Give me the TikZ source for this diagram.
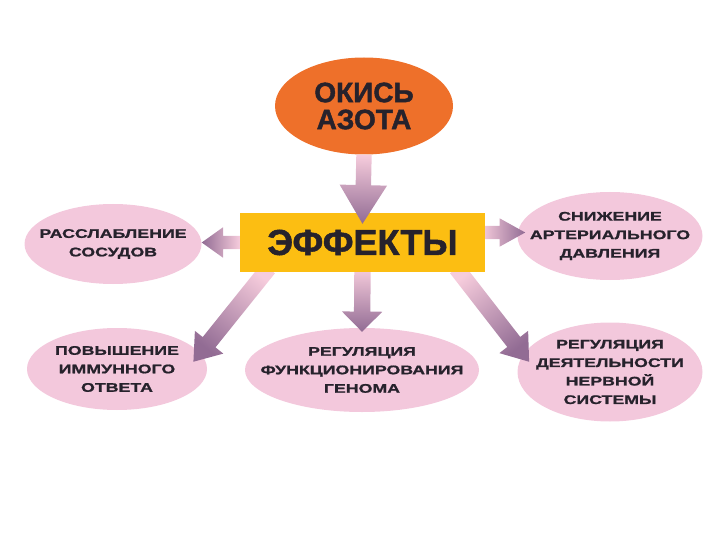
\documentclass[tikz,border=0pt]{standalone}
\usepackage{fontspec}
\setmainfont{Liberation Sans}
\newfontfamily\widefont[FakeStretch=1.42, FakeBold=1.2]{Liberation Sans}
\newfontfamily\heavyfont[FakeBold=1.5]{Liberation Sans}
\usetikzlibrary{shapes.geometric,shapes.arrows,calc}

\pgfdeclarelayer{hub}
\pgfdeclarelayer{front}
\pgfsetlayers{main,hub,front}

\definecolor{nitricorange}{RGB}{238,112,42}
\definecolor{effectyellow}{RGB}{252,190,18}
\definecolor{effectpink}{RGB}{243,200,220}
\definecolor{arrowlight}{RGB}{246,204,220}
\definecolor{arrowdark}{RGB}{146,108,148}
\definecolor{inkdark}{RGB}{38,34,44}

\tikzset{
  effect/.style={ellipse, fill=effectpink, inner sep=-20pt, align=center, text=inkdark,
    font=\widefont\bfseries\fontsize{12.5}{18.5}\selectfont},
  effarrow/.style={single arrow, inner xsep=0pt, outer sep=0pt, text height=0pt, text depth=0pt,
    single arrow head indent=0pt, anchor=tail, shading=axis, top color=arrowdark, bottom color=arrowlight},
}

% shaded arrow from #2 to #3
\newcommand{\effarrow}[3][]{%
  \path let \p1=($(#3)-(#2)$), \n1={atan2(\y1,\x1)}, \n2={veclen(\x1,\y1)} in
    node[effarrow, #1, minimum height=\n2, rotate=\n1, shading angle={\n1-90}] at (#2) {};}

\begin{document}
\begin{tikzpicture}[x=1pt, y=-1pt]
        \useasboundingbox (0,0) rectangle (720,540);
        % ==== SOURCE AND HUB ====
        \node[ellipse, fill=nitricorange, minimum width=178pt, minimum height=97pt, inner sep=0pt,
            align=center, text=inkdark, font=\heavyfont\bfseries\fontsize{28}{27}\selectfont]
            (nitric) at (364,106) {ОКИСЬ\\АЗОТА};
        \begin{pgfonlayer}{hub}
        \node[fill=effectyellow, minimum width=245pt, minimum height=59pt, text=inkdark,
            font=\heavyfont\bfseries\fontsize{36}{36}\selectfont] (effects) at (362.5,242.5) {ЭФФЕКТЫ};
        \end{pgfonlayer}

        % ==== EFFECTS ====
        \node[effect, minimum width=177pt, minimum height=80pt] (relax) at (113,244) {РАССЛАБЛЕНИЕ\\СОСУДОВ};
        \node[effect, minimum width=185pt, minimum height=88pt] (pressure) at (610,236) {СНИЖЕНИЕ\\АРТЕРИАЛЬНОГО\\ДАВЛЕНИЯ};
        \node[effect, minimum width=180pt, minimum height=82pt] (immune) at (117,369) {ПОВЫШЕНИЕ\\ИММУННОГО\\ОТВЕТА};
        \node[effect, minimum width=234pt, minimum height=84pt] (genome) at (362,370) {РЕГУЛЯЦИЯ\\ФУНКЦИОНИРОВАНИЯ\\ГЕНОМА};
        \node[effect, minimum width=185pt, minimum height=99pt] (nerve) at (610,372) {РЕГУЛЯЦИЯ\\ДЕЯТЕЛЬНОСТИ\\НЕРВНОЙ\\СИСТЕМЫ};

        % ==== ARROW ENDS ====
        \coordinate (nitricTip) at ($(effects.north)+(0,11)$);
        \coordinate (relaxTip) at (relax.east |- effects.west);
        \coordinate (pressureTail) at ($(effects.east)+(-4,-10)$);
        \coordinate (pressureTip) at ($(pressureTail)+(44,0)$);
        \coordinate (immuneTail) at ($(effects.south)+(-94,-4)$);
        \coordinate (immuneTip) at ($(immune.east)+(-14,-7)$);
        \coordinate (genomeTail) at ($(effects.south)+(0,-4)$);
        \coordinate (genomeTip) at ($(genome.north)+(0,4)$);
        \coordinate (nerveTail) at ($(effects.south)+(94,-4)$);
        \coordinate (nerveTip) at ($(nerve.west)+(12,-10)$);

        % ==== ARROWS ====
        \begin{pgfonlayer}{front}
        \effarrow[inner ysep=7.5pt, single arrow head extend=16pt, single arrow tip angle=63]{nitric.south}{nitricTip}
        \end{pgfonlayer}
        \effarrow[inner ysep=6.5pt, single arrow head extend=8.5pt, single arrow tip angle=71]{effects.west}{relaxTip}
        \effarrow[inner ysep=6.5pt, single arrow head extend=7.5pt, single arrow tip angle=58]{pressureTail}{pressureTip}
        \effarrow[inner ysep=8pt, single arrow head extend=10pt, single arrow tip angle=72]{immuneTail}{immuneTip}
        \effarrow[inner ysep=8pt, single arrow head extend=12pt, single arrow tip angle=90]{genomeTail}{genomeTip}
        \effarrow[inner ysep=8pt, single arrow head extend=10pt, single arrow tip angle=72]{nerveTail}{nerveTip}
\end{tikzpicture}
\end{document}
